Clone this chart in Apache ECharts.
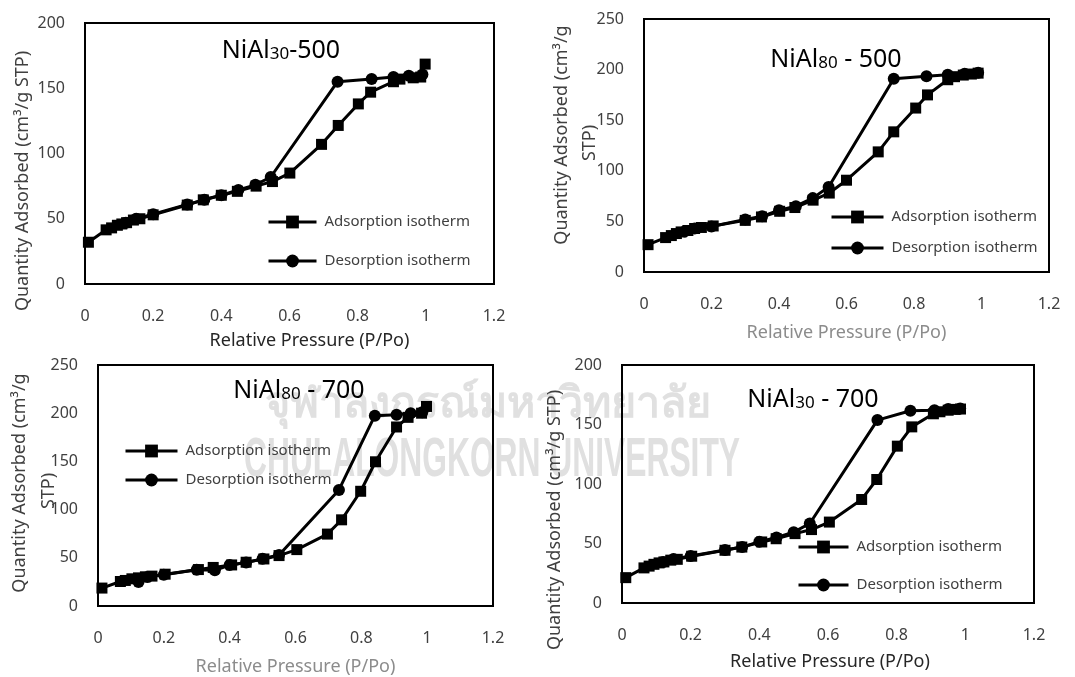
<!DOCTYPE html>
<html>
<head>
<meta charset="utf-8">
<script src="https://cdn.jsdelivr.net/npm/echarts@6/dist/echarts.min.js"></script>
<style>html,body{margin:0;padding:0;background:#fff;}#c{width:1075px;height:677px;}</style>
</head>
<body>
<div id="c"></div>
<script>
// ---- Data (Relative pressure P/Po, quantity adsorbed cm3/g STP) ----
// Panel 1: NiAl30-500
const p1AdsX = [0.01,0.062,0.078,0.095,0.108,0.122,0.142,0.161,0.2,0.3,0.347,0.4,0.447,0.502,0.55,0.601,0.694,0.743,0.802,0.838,0.905,0.924,0.963,0.985,0.998];
const p1AdsY = [32,41.5,43,45,46,47,49,50,53,60.5,64.5,68,71,75,78.5,85,107,121.5,138,147,155,157,158,158.6,168.5];
const p1DesX = [0.99,0.95,0.905,0.841,0.741,0.545,0.5,0.45,0.4,0.35,0.3,0.2,0.15,0.12];
const p1DesY = [160.5,159.5,158.6,157,155,82,76,72,68,64.5,61,53.5,50,47];
// Panel 2: NiAl80 - 500
const p2AdsX = [0.012,0.064,0.081,0.096,0.11,0.13,0.15,0.17,0.205,0.3,0.348,0.402,0.447,0.501,0.549,0.6,0.694,0.74,0.805,0.84,0.9,0.92,0.946,0.97,0.99];
const p2AdsY = [27,34,36,38,39.6,41,43,44,45.5,51,54.4,60,63.7,71,78,90.7,118.7,138.5,162,175,190,193,194.6,195.6,196.5];
const p2DesX = [0.99,0.95,0.9,0.837,0.74,0.547,0.5,0.45,0.4,0.35,0.3,0.2,0.15,0.12];
const p2DesY = [197,196,195,193.5,191,84,73,65,61,55,52,45,43,40];
// Panel 3: NiAl80 - 700
const p3AdsX = [0.012,0.068,0.083,0.103,0.123,0.144,0.164,0.204,0.305,0.35,0.406,0.45,0.504,0.55,0.604,0.697,0.74,0.798,0.843,0.907,0.942,0.983,0.998];
const p3AdsY = [18.6,25.4,26.5,28.2,29.2,30.3,31,33,37.8,40,42.6,45.4,48.8,52.3,58.5,74.6,89.4,119,149.6,185.7,195.7,200,207];
const p3DesX = [0.985,0.95,0.907,0.841,0.732,0.55,0.5,0.45,0.4,0.355,0.3,0.2,0.15,0.123];
const p3DesY = [201,200,198.5,197.4,120.4,53,49,45,42.5,37,37.5,32.5,30,25];
// Panel 4: NiAl30 - 700
const p4AdsX = [0.011,0.064,0.079,0.093,0.108,0.122,0.142,0.161,0.203,0.3,0.349,0.407,0.449,0.504,0.552,0.604,0.698,0.742,0.802,0.844,0.907,0.926,0.95,0.97,0.986];
const p4AdsY = [21.3,29.5,31,32.5,33.7,34.5,36,36.7,39.3,44.3,47,51.3,54,58.3,61.7,68,87,103.8,131.8,148,159,160.7,162,162.7,163];
const p4DesX = [0.985,0.95,0.91,0.84,0.744,0.547,0.5,0.45,0.4,0.35,0.3,0.2,0.15,0.12];
const p4DesY = [163.5,163,162,161.6,153.7,66.8,59.5,55,51.5,47,44.5,39.5,37,34.5];

const xTickMax = 1.2, xTickStep = 0.2;
const yMaxes = [200, 250, 250, 200];
const seriesNames = ['Adsorption isotherm', 'Desorption isotherm'];
const titles = [['NiAl','30','-500'], ['NiAl','80',' - 500'], ['NiAl','80',' - 700'], ['NiAl','30',' - 700']];
const yTitle = 'Quantity Adsorbed (cm³/g STP)';
const xTitle = 'Relative Pressure (P/Po)';
const wmThai = 'จุฬาลงกรณ์มหาวิทยาลัย';
const wmEng = 'CHULALONGKORN UNIVERSITY';

function pairs(xs, ys) { return xs.map((x, i) => [x, ys[i]]); }
const adsData = [pairs(p1AdsX,p1AdsY), pairs(p2AdsX,p2AdsY), pairs(p3AdsX,p3AdsY), pairs(p4AdsX,p4AdsY)];
const desData = [pairs(p1DesX,p1DesY), pairs(p2DesX,p2DesY), pairs(p3DesX,p3DesY), pairs(p4DesX,p4DesY)];

const FONT = '"Noto Sans", "DejaVu Sans", sans-serif';
const grids = [
  {left:85, top:23, width:409, height:261},
  {left:644, top:19, width:405, height:253},
  {left:98, top:365, width:395, height:242},
  {left:622, top:365, width:412, height:238}
];
const xNameGap = [48, 52, 52, 50];
const xNameColor = ['#262626', '#8c8c8c', '#8c8c8c', '#262626'];
const xNamePad = [[0,0,0,40],[0,0,0,0],[0,0,0,0],[0,0,0,4]];
const legends = [
  {left:267, top:214, itemGap:23, itemWidth:48},
  {left:830, top:209, itemGap:15, itemWidth:52},
  {left:124, top:443, itemGap:13, itemWidth:52},
  {left:797, top:539, itemGap:22, itemWidth:50}
];
const titlePos = [[281,48],[836,57],[299,388],[813,397]];

// width-fit for the condensed watermark
const engFont = 'bold 55px "Liberation Sans", sans-serif';
const mctx = document.createElement('canvas').getContext('2d');
mctx.font = engFont;
const engScale = 496 / mctx.measureText(wmEng).width;

const option = {
  animation: false,
  backgroundColor: '#fff',
  grid: grids.map(g => Object.assign({show:true, borderColor:'#000', borderWidth:2, backgroundColor:'transparent'}, g)),
  xAxis: grids.map((g, i) => ({
    type:'value', gridIndex:i, min:0, max:xTickMax, interval:xTickStep,
    axisLine:{show:false}, axisTick:{show:false}, splitLine:{show:false},
    axisLabel:{color:'#404040', fontSize:16, fontFamily:FONT, margin:24},
    name:xTitle, nameLocation:'middle', nameGap:xNameGap[i],
    nameTextStyle:{color:xNameColor[i], fontSize:18, fontFamily:FONT, padding:xNamePad[i]}
  })),
  yAxis: grids.map((g, i) => ({
    type:'value', gridIndex:i, min:0, max:yMaxes[i], interval:50,
    axisLine:{show:false}, axisTick:{show:false}, splitLine:{show:false},
    axisLabel:{color:'#404040', fontSize:16, fontFamily:FONT, margin:20}
  })),
  legend: legends.map(l => ({
    orient:'vertical', left:l.left, top:l.top, padding:0, itemGap:l.itemGap, itemWidth:l.itemWidth, itemHeight:16,
    data:seriesNames, selectedMode:false,
    lineStyle:{width:3, color:'#000'}, itemStyle:{color:'#000'},
    textStyle:{color:'#404040', fontSize:15, fontFamily:FONT, lineHeight:16, padding:[0,0,0,3]}
  })),
  graphic: [
    {type:'text', z:-10, x:265, y:405, style:{text:wmThai, fill:'#e0e0e0', font:'bold 43px sans-serif', verticalAlign:'middle'}},
    {type:'text', z:-10, x:244, y:461, scaleX:engScale, style:{text:wmEng, fill:'#e0e0e0', font:engFont, verticalAlign:'middle'}},
    ...titles.map((t, i) => ({
      type:'text', x:titlePos[i][0], y:titlePos[i][1], z:10,
      style:{
        text:'{a|' + t[0] + '}{s|' + t[1] + '}{a|' + t[2] + '}',
        align:'center', verticalAlign:'middle',
        rich:{
          a:{fontSize:25, fontFamily:FONT, fill:'#000', verticalAlign:'bottom', lineHeight:30},
          s:{fontSize:17, fontFamily:FONT, fill:'#000', verticalAlign:'bottom', lineHeight:24}
        }
      }
    })),
    {type:'text', x:23, y:181, rotation:Math.PI/2, style:{text:yTitle, align:'center', verticalAlign:'middle', fill:'#404040', font:'18px ' + FONT}},
    {type:'text', x:562, y:135, rotation:Math.PI/2, style:{text:'Quantity Adsorbed (cm³/g', align:'center', verticalAlign:'middle', fill:'#404040', font:'18px ' + FONT}},
    {type:'text', x:590, y:143, rotation:Math.PI/2, style:{text:'STP)', align:'center', verticalAlign:'middle', fill:'#404040', font:'18px ' + FONT}},
    {type:'text', x:20, y:483, rotation:Math.PI/2, style:{text:'Quantity Adsorbed (cm³/g', align:'center', verticalAlign:'middle', fill:'#404040', font:'18px ' + FONT}},
    {type:'text', x:49, y:491, rotation:Math.PI/2, style:{text:'STP)', align:'center', verticalAlign:'middle', fill:'#404040', font:'18px ' + FONT}},
    {type:'text', x:555, y:520, rotation:Math.PI/2, style:{text:yTitle, align:'center', verticalAlign:'middle', fill:'#404040', font:'18px ' + FONT}}
  ],
  series: [0,1,2,3].flatMap(i => [
    {name:seriesNames[0], type:'line', xAxisIndex:i, yAxisIndex:i, data:adsData[i], symbol:'rect', symbolSize:11,
     color:'#000', lineStyle:{width:3, color:'#000'}, itemStyle:{color:'#000'}, z:3},
    {name:seriesNames[1], type:'line', xAxisIndex:i, yAxisIndex:i, data:desData[i], symbol:'circle', symbolSize:12,
     color:'#000', lineStyle:{width:3, color:'#000'}, itemStyle:{color:'#000'}, z:4}
  ])
};
const chart = echarts.init(document.getElementById('c'), null, {renderer:'canvas'});
chart.setOption(option);
</script>
</body>
</html>
